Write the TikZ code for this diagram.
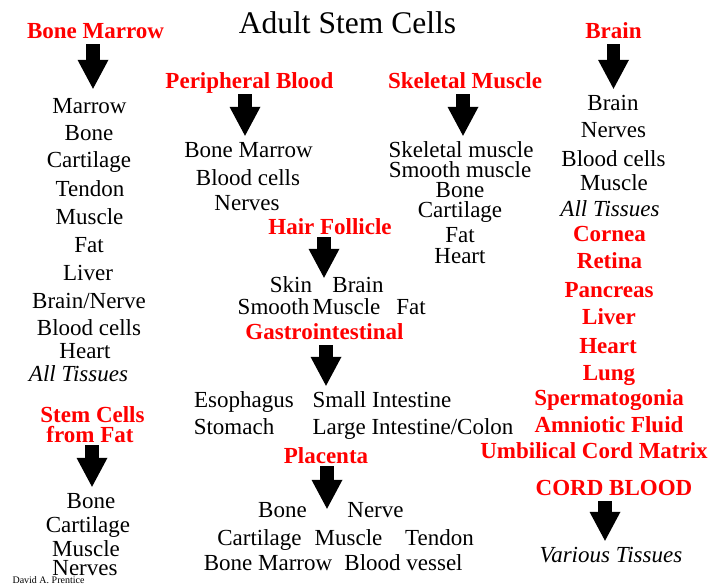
\documentclass[tikz,border=0pt]{standalone}
\usepackage{fontspec}
\setmainfont{Liberation Serif}
\usetikzlibrary{arrows.meta}

\begin{document}
\begin{tikzpicture}[x=1pt, y=-1pt,
    head/.style={text=red, font=\fontsize{23}{23}\selectfont\bfseries, inner sep=0pt, anchor=base, text height=15pt, text depth=0pt},
    tissue/.style={font=\fontsize{23}{23}\selectfont, inner sep=0pt, anchor=base, text height=15pt, text depth=0pt},
    blockarrow/.style={line width=13.5pt, shorten <=6pt, shorten >=6pt,
        -{Triangle[width=31pt 0 0, length=29pt 0 0, line width=0pt 0 0]}}]
    \useasboundingbox (0,0) rectangle (720,584);

    \node[tissue, font=\fontsize{31.5}{31.5}\selectfont] (title) at (347.5,33) {Adult Stem Cells};

    % Bone marrow
    \node[head] (bm) at (95.5,38) {Bone Marrow};
    \node[tissue] (bm1) at (89.5,113) {Marrow};
    \node[tissue] (bm2) at (89,140) {Bone};
    \node[tissue] (bm3) at (89,167) {Cartilage};
    \node[tissue] (bm4) at (90,196) {Tendon};
    \node[tissue] (bm5) at (89.5,224) {Muscle};
    \node[tissue] (bm6) at (89,252) {Fat};
    \node[tissue] (bm7) at (88,280) {Liver};
    \node[tissue] (bm8) at (89,308) {Brain/Nerve};
    \node[tissue] (bm9) at (89,335) {Blood cells};
    \node[tissue] (bm10) at (85,358) {Heart};
    \node[tissue, font=\fontsize{23}{23}\selectfont\itshape] (bm11) at (78.5,381) {All Tissues};
    \draw[blockarrow, shorten >=9pt] ([xshift=-2.5pt]bm.south) -- ([xshift=-2.5pt]bm.south |- bm1.north);

    % Stem cells from fat
    \node[head] (sf1) at (92.5,422) {Stem Cells};
    \node[head] (sf2) at (90,442) {from Fat};
    \node[tissue] (sf3) at (91,508) {Bone};
    \node[tissue] (sf4) at (88,532) {Cartilage};
    \node[tissue] (sf5) at (86,556) {Muscle};
    \node[tissue] (sf6) at (85,575) {Nerves};
    \draw[blockarrow, shorten <=3pt] ([xshift=2pt]sf2.south) -- ([xshift=2pt]sf2.south |- sf3.north);
    \node[font=\fontsize{10}{10}\selectfont, inner sep=0pt, anchor=base] (author) at (48.5,583) {David A. Prentice};

    % Peripheral blood
    \node[head] (pb) at (249.5,88) {Peripheral Blood};
    \node[tissue] (pb1) at (248.5,157) {Bone Marrow};
    \node[tissue] (pb2) at (248,185) {Blood cells};
    \node[tissue] (pb3) at (247,210) {Nerves};
    \draw[blockarrow] ([xshift=-4.5pt]pb.south) -- ([xshift=-4.5pt]pb.south |- pb1.north);

    % Skeletal muscle
    \node[head] (sm) at (465,88) {Skeletal Muscle};
    \node[tissue] (sm1) at (461,157) {Skeletal muscle};
    \node[tissue] (sm2) at (460,177) {Smooth muscle};
    \node[tissue] (sm3) at (460,197) {Bone};
    \node[tissue] (sm4) at (460,217) {Cartilage};
    \node[tissue] (sm5) at (460,242) {Fat};
    \node[tissue] (sm6) at (460,263) {Heart};
    \draw[blockarrow] ([xshift=-2pt]sm.south) -- ([xshift=-2pt]sm.south |- sm1.north);

    % Hair follicle
    \node[head] (hf) at (330,234) {Hair Follicle};
    \node[tissue] (hf1) at (291,292) {Skin};
    \node[tissue] (hf2) at (358,292) {Brain};
    \node[tissue] (hf3) at (273.5,314) {Smooth};
    \node[tissue] (hf4) at (346.5,314) {Muscle};
    \node[tissue] (hf5) at (411,314) {Fat};
    \draw[blockarrow, shorten <=3pt, shorten >=-1pt] ([xshift=-6pt]hf.south) -- ([xshift=-6pt]hf.south |- hf1.north);

    % Gastrointestinal
    \node[head] (gi) at (324.5,339) {Gastrointestinal};
    \node[tissue] (gi1) at (244,407) {Esophagus};
    \node[tissue] (gi2) at (382,407) {Small Intestine};
    \node[tissue] (gi3) at (234,434) {Stomach};
    \node[tissue] (gi4) at (413,434) {Large Intestine/Colon};
    \draw[blockarrow] ([xshift=1.5pt]gi.south) -- ([xshift=1.5pt]gi.south |- gi1.north);

    % Placenta
    \node[head] (pl) at (326,463) {Placenta};
    \node[tissue] (pl1) at (282.5,517) {Bone};
    \node[tissue] (pl2) at (375.5,517) {Nerve};
    \node[tissue] (pl3) at (259.5,545) {Cartilage};
    \node[tissue] (pl4) at (348.5,545) {Muscle};
    \node[tissue] (pl5) at (439.5,545) {Tendon};
    \node[tissue] (pl6) at (268,570) {Bone Marrow};
    \node[tissue] (pl7) at (403.5,570) {Blood vessel};
    \draw[blockarrow, shorten <=3pt, shorten >=-7pt] ([xshift=1pt]pl.south) -- ([xshift=1pt]pl.south |- pl1.north);

    % Brain
    \node[head] (br) at (613.5,38) {Brain};
    \node[tissue] (br1) at (613,110) {Brain};
    \node[tissue] (br2) at (613.5,137) {Nerves};
    \node[tissue] (br3) at (613.5,166) {Blood cells};
    \node[tissue] (br4) at (614,190) {Muscle};
    \node[tissue, font=\fontsize{23}{23}\selectfont\itshape] (br5) at (610,216) {All Tissues};
    \draw[blockarrow] (br.south) -- (br.south |- br1.north);

    % Other sources
    \node[head] (ot1) at (609.5,241) {Cornea};
    \node[head] (ot2) at (609.5,268) {Retina};
    \node[head] (ot3) at (609,297) {Pancreas};
    \node[head] (ot4) at (609,324) {Liver};
    \node[head] (ot5) at (608,353) {Heart};
    \node[head] (ot6) at (609,380) {Lung};
    \node[head] (ot7) at (609,405) {Spermatogonia};
    \node[head] (ot8) at (609,432) {Amniotic Fluid};
    \node[head] (ot9) at (594,458) {Umbilical Cord Matrix};

    % Cord blood
    \node[head] (cb) at (614,495) {CORD BLOOD};
    \node[tissue, font=\fontsize{23}{23}\selectfont\itshape] (cb1) at (611,562) {Various Tissues};
    \draw[blockarrow] ([xshift=-9pt]cb.south) -- ([xshift=-9pt]cb.south |- cb1.north);
\end{tikzpicture}
\end{document}
